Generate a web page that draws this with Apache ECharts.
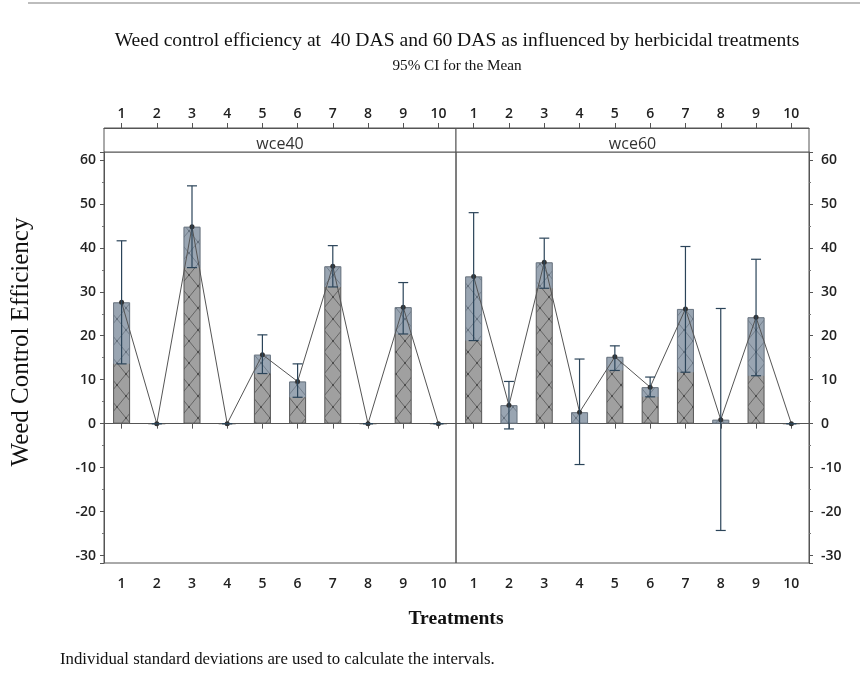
<!DOCTYPE html>
<html>
<head>
<meta charset="utf-8">
<script src="https://cdn.jsdelivr.net/npm/echarts@6/dist/echarts.min.js"></script>
<style>html,body{margin:0;padding:0;background:#fff;}#c{width:860px;height:679px;}</style>
</head>
<body>
<div id="c"></div>
<script>
// ---- data ----
const categories = ['1','2','3','4','5','6','7','8','9','10'];
const panelNames = ['wce40', 'wce60'];
const mean40  = [27.6, 0, 44.8, 0, 15.7, 9.6, 35.8, 0, 26.5, 0];
const lower40 = [13.6, 0, 35.5, 0, 11.4, 6.0, 31.1, 0, 20.4, 0];
const upper40 = [41.6, 0, 54.1, 0, 20.2, 13.6, 40.5, 0, 32.1, 0];
const mean60  = [33.5, 4.2, 36.7, 2.6, 15.2, 8.3, 26.1, 0.9, 24.2, 0];
const lower60 = [18.9, -1.2, 30.8, -9.3, 12.1, 6.1, 11.7, -24.3, 10.9, 0];
const upper60 = [48.0, 9.6, 42.2, 14.7, 17.7, 10.6, 40.3, 26.2, 37.4, 0];
const yTickLabels = ['-30','-20','-10','0','10','20','30','40','50','60'];

const tickFont = "'Open Sans', 'Noto Sans', sans-serif";
const serif = "'Liberation Serif', 'DejaVu Serif', serif";

// crosshatch pattern
const pat = document.createElement('canvas');
pat.width = 18; pat.height = 22;
(function(){
  const g = pat.getContext('2d');
  g.fillStyle = '#a0a0a0'; g.fillRect(0,0,18,22);
  g.strokeStyle = '#5e5e5e'; g.lineWidth = 0.9;
  g.beginPath(); g.moveTo(0,0); g.lineTo(18,22); g.moveTo(18,0); g.lineTo(0,22); g.stroke();
  g.fillStyle = '#444';
  [[9,11],[0,0],[18,0],[0,22],[18,22]].forEach(p=>{g.beginPath();g.arc(p[0],p[1],1,0,Math.PI*2);g.fill();});
})();

const chart = echarts.init(document.getElementById('c'), null, {renderer:'canvas'});

const grids = [
  {left:104, top:152, width:352, height:411},
  {left:456, top:152, width:353, height:411}
];

function errData(lo, hi){ return lo.map((v,i)=>[i, v, hi[i]]); }
function ovData(m, lo, hi){ return m.map((v,i)=>[i, Math.max(lo[i],0), Math.min(hi[i], v)]); }

function renderErr(params, api){
  const x = api.value(0), lo = api.value(1), hi = api.value(2);
  const a = api.coord([x, lo]), b = api.coord([x, hi]);
  const c = 5, st = {stroke:'#2b4459', lineWidth:1.2};
  return {type:'group', children:[
    {type:'line', shape:{x1:a[0],y1:a[1],x2:b[0],y2:b[1]}, style:st},
    {type:'line', shape:{x1:a[0]-c,y1:a[1],x2:a[0]+c,y2:a[1]}, style:st},
    {type:'line', shape:{x1:b[0]-c,y1:b[1],x2:b[0]+c,y2:b[1]}, style:st}
  ]};
}
function renderOv(params, api){
  const x = api.value(0), lo = api.value(1), hi = api.value(2);
  if (hi <= lo) return null;
  const a = api.coord([x, lo]), b = api.coord([x, hi]);
  const w = 17;
  return {type:'rect', shape:{x:a[0]-w/2, y:b[1], width:w, height:a[1]-b[1]},
          style:{fill:'rgba(140,175,210,0.36)'}};
}

const xAxis = [], yAxis = [], series = [];
const means = [mean40, mean60], lows = [lower40, lower60], highs = [upper40, upper60];
for (let g = 0; g < 2; g++){
  const base = {type:'category', data:categories, gridIndex:g, boundaryGap:true,
    axisLine:{show:true, lineStyle:{color:'#555', width:1}},
    axisTick:{show:true, alignWithLabel:true, length:5, lineStyle:{color:'#555'}},
    axisLabel:{color:'#222', fontFamily:tickFont, fontSize:14, fontWeight:600}, splitLine:{show:false}};
  xAxis.push(Object.assign({}, base, {position:'bottom', axisLabel:Object.assign({}, base.axisLabel, {margin:14})}));
  xAxis.push(Object.assign({}, base, {position:'top', offset:24, axisLabel:Object.assign({}, base.axisLabel, {margin:7})}));
  yAxis.push({type:'value', gridIndex:g, position: g===0?'left':'right',
    min:-31.7, max:61.8, minInterval:10, maxInterval:10, splitNumber:9,
    axisLine:{show:true, lineStyle:{color:'#555'}},
    axisTick:{show:true, length:4, lineStyle:{color:'#555'}},
    minorTick:{show:true, splitNumber:2, length:2, lineStyle:{color:'#777'}},
    splitLine:{show:false},
    axisLabel:{color:'#222', fontFamily:tickFont, fontSize:14, fontWeight:600, margin: g===0?8:12,
      showMinLabel:false, showMaxLabel:false,
      formatter:function(v){ const s = String(Math.round(v)); return (Math.abs(v - Math.round(v))<1e-6 && yTickLabels.indexOf(s)>=0) ? s : ''; }}
  });
  series.push({type:'bar', xAxisIndex:2*g, yAxisIndex:g, data:means[g], barWidth:17,
    itemStyle:{color:{image:pat, repeat:'repeat'}, borderColor:'#555', borderWidth:1}, z:2, silent:true});
  series.push({type:'custom', xAxisIndex:2*g, yAxisIndex:g, data:ovData(means[g], lows[g], highs[g]),
    renderItem:renderOv, encode:{x:0, y:[1,2]}, z:3, silent:true});
  series.push({type:'line', xAxisIndex:2*g, yAxisIndex:g, data:means[g],
    lineStyle:{color:'#555', width:1}, symbol:'circle', symbolSize:5,
    itemStyle:{color:'#333'}, z:4, silent:true});
  series.push({type:'custom', xAxisIndex:2*g, yAxisIndex:g, data:errData(lows[g], highs[g]),
    renderItem:renderErr, encode:{x:0, y:[1,2]}, z:5, silent:true});
}

const graphic = [
  {type:'line', shape:{x1:28, y1:3, x2:860, y2:3}, style:{stroke:'#bdbdbd', lineWidth:2}},
  {type:'text', style:{text:'Weed control efficiency at  40 DAS and 60 DAS as influenced by herbicidal treatments', x:457, y:41, font:'19.6px '+serif, fill:'#111', textAlign:'center', textVerticalAlign:'middle'}},
  {type:'text', style:{text:'95% CI for the Mean', x:457, y:66, font:'15.2px '+serif, fill:'#111', textAlign:'center', textVerticalAlign:'middle'}},
  {type:'text', style:{text:'Weed Control Efficiency', x:0, y:0, font:'25px '+serif, fill:'#111', textAlign:'center', textVerticalAlign:'middle'}, x:21, y:342, rotation:Math.PI/2},
  {type:'text', style:{text:'Treatments', x:456, y:619, font:'bold 19.6px '+serif, fill:'#111', textAlign:'center', textVerticalAlign:'middle'}},
  {type:'text', style:{text:'Individual standard deviations are used to calculate the intervals.', x:60, y:660, font:'16.8px '+serif, fill:'#111', textAlign:'left', textVerticalAlign:'middle'}}
];
grids.forEach((gr, i) => {
  graphic.push({type:'rect', shape:{x:gr.left, y:gr.top-24, width:gr.width, height:24}, style:{fill:'#fff', stroke:'#555', lineWidth:1}});
  graphic.push({type:'text', style:{text:panelNames[i], x:gr.left+gr.width/2, y:gr.top-8, font:'16px '+tickFont, fill:'#333', textAlign:'center', textVerticalAlign:'middle'}});
});

chart.setOption({
  animation:false,
  backgroundColor:'#fff',
  grid: grids.map(g => Object.assign({show:true, borderColor:'#555', borderWidth:1, backgroundColor:'transparent'}, g)),
  xAxis, yAxis, series, graphic
});
</script>
</body>
</html>
